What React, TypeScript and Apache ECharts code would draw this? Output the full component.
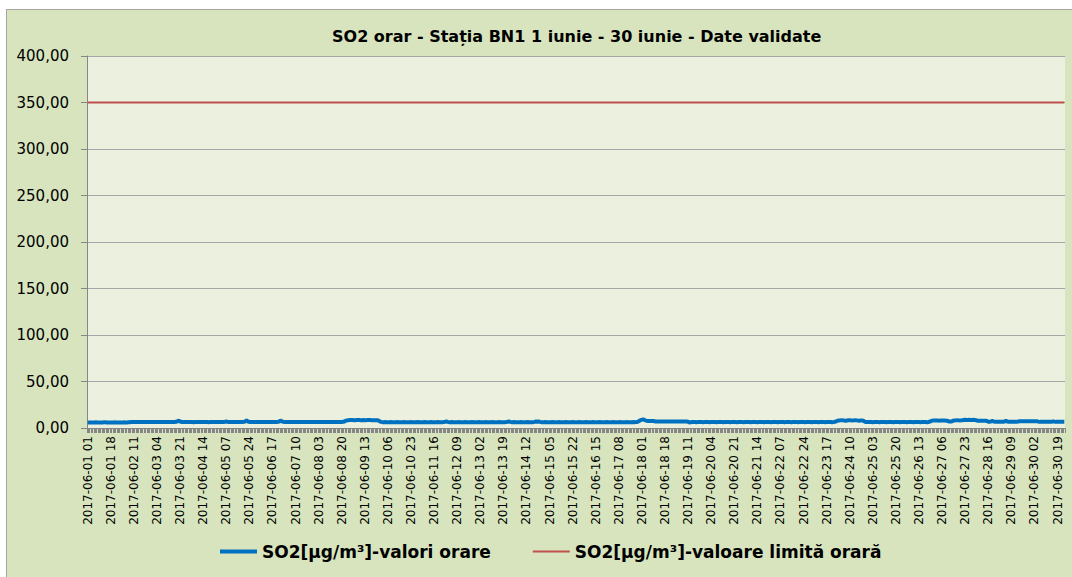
import React, { useEffect, useRef } from "react";
import * as echarts from "echarts";

const TITLE = "SO2 orar - Stația BN1 1 iunie - 30 iunie - Date validate";
const SERIES_NAMES = ["SO2[µg/m³]-valori orare", "SO2[µg/m³]-valoare limită orară"];
const LIMIT = 350;
const Y_TICKS = [0, 50, 100, 150, 200, 250, 300, 350, 400];
const DAYS = Array.from({ length: 30 }, (_, i) => String(i + 1).padStart(2, "0"));
const HOURS = Array.from({ length: 24 }, (_, i) => String(i + 1).padStart(2, "0"));

// hourly SO2 values (µg/m³), one array per day, hours 01..24
const d01 = [6.0, 6.0, 5.9, 5.9, 6.0, 6.0, 6.1, 6.0, 6.0, 5.9, 6.0, 6.0, 6.1, 6.1, 6.0, 6.0, 5.9, 6.0, 6.0, 6.0, 6.1, 6.0, 6.0, 6.0];
const d02 = [6.0, 6.0, 6.0, 6.1, 6.0, 6.0, 6.1, 6.2, 6.4, 6.4, 6.5, 6.4, 6.4, 6.4, 6.5, 6.4, 6.4, 6.4, 6.5, 6.5, 6.4, 6.4, 6.4, 6.4];
const d03 = [6.4, 6.4, 6.5, 6.4, 6.4, 6.4, 6.4, 6.5, 6.4, 6.4, 6.4, 6.4, 6.5, 6.5, 6.4, 6.4, 6.5, 6.6, 7.2, 8.0, 7.0, 6.5, 6.4, 6.4];
const d04 = [6.4, 6.4, 6.4, 6.5, 6.4, 6.4, 6.3, 6.4, 6.4, 6.5, 6.4, 6.4, 6.4, 6.4, 6.5, 6.4, 6.4, 6.3, 6.4, 6.4, 6.5, 6.4, 6.4, 6.4];
const d05 = [6.4, 6.4, 6.5, 6.4, 6.4, 6.6, 7.0, 6.6, 6.4, 6.4, 6.4, 6.5, 6.4, 6.4, 6.4, 6.4, 6.5, 6.4, 6.4, 6.6, 7.2, 8.2, 7.0, 6.5];
const d06 = [6.4, 6.4, 6.4, 6.4, 6.5, 6.4, 6.4, 6.4, 6.4, 6.5, 6.4, 6.4, 6.4, 6.4, 6.4, 6.5, 6.4, 6.4, 6.4, 6.4, 6.6, 7.0, 8.0, 7.2];
const d07 = [6.6, 6.4, 6.4, 6.4, 6.5, 6.4, 6.4, 6.4, 6.4, 6.4, 6.5, 6.4, 6.4, 6.4, 6.4, 6.4, 6.5, 6.4, 6.4, 6.4, 6.4, 6.5, 6.4, 6.4];
const d08 = [6.4, 6.4, 6.5, 6.4, 6.4, 6.4, 6.4, 6.4, 6.5, 6.4, 6.4, 6.4, 6.4, 6.4, 6.5, 6.4, 6.4, 6.4, 6.4, 6.5, 6.6, 7.0, 7.8, 8.2];
const d09 = [8.4, 8.5, 8.6, 8.5, 8.4, 8.4, 8.5, 8.6, 8.5, 8.4, 8.4, 8.5, 8.4, 8.4, 8.5, 8.6, 8.5, 8.4, 8.3, 8.4, 8.4, 8.3, 8.0, 7.2];
const d10 = [6.6, 6.3, 6.3, 6.4, 6.3, 6.3, 6.3, 6.4, 6.3, 6.3, 6.3, 6.3, 6.4, 6.3, 6.3, 6.3, 6.3, 6.4, 6.3, 6.3, 6.3, 6.3, 6.4, 6.3];
const d11 = [6.3, 6.3, 6.3, 6.4, 6.3, 6.3, 6.3, 6.3, 6.4, 6.3, 6.3, 6.3, 6.3, 6.4, 6.3, 6.3, 6.3, 6.3, 6.4, 6.3, 6.3, 6.3, 6.4, 6.6];
const d12 = [7.0, 6.6, 6.3, 6.3, 6.4, 6.3, 6.3, 6.3, 6.3, 6.4, 6.3, 6.3, 6.3, 6.3, 6.4, 6.3, 6.3, 6.3, 6.3, 6.4, 6.3, 6.3, 6.3, 6.3];
const d13 = [6.4, 6.3, 6.3, 6.3, 6.3, 6.4, 6.3, 6.3, 6.3, 6.3, 6.4, 6.3, 6.3, 6.3, 6.3, 6.4, 6.3, 6.3, 6.3, 6.3, 6.4, 6.6, 7.0, 6.6];
const d14 = [6.3, 6.3, 6.4, 6.3, 6.3, 6.3, 6.3, 6.4, 6.3, 6.3, 6.3, 6.3, 6.4, 6.3, 6.3, 6.3, 6.3, 6.6, 7.0, 6.6, 7.0, 6.6, 6.3, 6.3];
const d15 = [6.3, 6.4, 6.3, 6.3, 6.3, 6.3, 6.4, 6.3, 6.3, 6.3, 6.3, 6.4, 6.3, 6.3, 6.3, 6.3, 6.4, 6.3, 6.3, 6.3, 6.3, 6.4, 6.3, 6.3];
const d16 = [6.3, 6.3, 6.4, 6.3, 6.3, 6.3, 6.3, 6.4, 6.3, 6.3, 6.3, 6.3, 6.4, 6.3, 6.3, 6.3, 6.3, 6.4, 6.3, 6.3, 6.3, 6.3, 6.4, 6.3];
const d17 = [6.3, 6.3, 6.3, 6.4, 6.3, 6.3, 6.3, 6.3, 6.4, 6.3, 6.3, 6.3, 6.3, 6.4, 6.3, 6.3, 6.3, 6.3, 6.4, 6.3, 6.5, 6.8, 7.5, 8.5];
const d18 = [8.8, 9.2, 8.6, 8.0, 7.6, 7.6, 7.5, 7.6, 7.6, 7.5, 7.0, 7.0, 7.1, 7.0, 7.0, 7.0, 7.1, 7.0, 7.0, 7.0, 7.1, 7.0, 7.0, 7.0];
const d19 = [7.0, 7.0, 7.1, 7.0, 7.0, 7.0, 7.1, 7.0, 7.0, 7.0, 6.8, 6.0, 6.3, 6.4, 6.4, 6.4, 6.3, 6.4, 6.4, 6.4, 6.4, 6.3, 6.4, 6.4];
const d20 = [6.4, 6.4, 6.3, 6.4, 6.4, 6.4, 6.4, 6.3, 6.4, 6.4, 6.4, 6.4, 6.3, 6.4, 6.4, 6.4, 6.4, 6.3, 6.4, 6.4, 6.4, 6.4, 6.3, 6.4];
const d21 = [6.4, 6.4, 6.4, 6.3, 6.4, 6.4, 6.4, 6.4, 6.3, 6.4, 6.4, 6.4, 6.4, 6.3, 6.4, 6.4, 6.4, 6.4, 6.3, 6.4, 6.4, 6.4, 6.4, 6.3];
const d22 = [6.4, 6.4, 6.4, 6.4, 6.3, 6.4, 6.4, 6.4, 6.4, 6.3, 6.4, 6.4, 6.4, 6.4, 6.3, 6.4, 6.4, 6.4, 6.4, 6.3, 6.4, 6.4, 6.4, 6.4];
const d23 = [6.3, 6.4, 6.4, 6.4, 6.4, 6.3, 6.4, 6.4, 6.4, 6.4, 6.3, 6.4, 6.4, 6.4, 6.4, 6.3, 6.4, 6.4, 6.4, 6.4, 6.3, 6.4, 6.6, 7.2];
const d24 = [7.8, 8.0, 8.2, 8.4, 8.2, 8.0, 7.8, 8.0, 8.3, 8.4, 8.2, 8.0, 8.2, 8.4, 8.2, 8.0, 7.9, 8.1, 8.0, 7.8, 6.8, 6.4, 6.4, 6.4];
const d25 = [6.4, 6.4, 6.3, 6.4, 6.4, 6.4, 6.4, 6.3, 6.4, 6.4, 6.4, 6.4, 6.3, 6.4, 6.4, 6.4, 6.4, 6.3, 6.4, 6.4, 6.4, 6.4, 6.3, 6.4];
const d26 = [6.4, 6.4, 6.4, 6.3, 6.4, 6.4, 6.4, 6.4, 6.3, 6.4, 6.4, 6.4, 6.4, 6.3, 6.4, 6.4, 6.4, 6.4, 6.3, 6.4, 6.8, 7.6, 8.0, 8.0];
const d27 = [8.0, 8.1, 8.0, 7.9, 8.0, 8.1, 8.0, 8.0, 7.9, 7.8, 7.0, 6.9, 7.0, 7.8, 8.0, 8.2, 8.4, 8.2, 8.0, 8.2, 8.4, 8.6, 8.8, 8.6];
const d28 = [8.6, 8.8, 8.7, 8.6, 8.8, 8.6, 8.4, 7.8, 7.8, 7.9, 7.8, 7.8, 7.8, 7.9, 7.6, 6.8, 6.8, 7.0, 7.6, 7.0, 6.8, 6.8, 6.8, 6.8];
const d29 = [6.8, 6.7, 6.7, 7.0, 7.6, 7.0, 6.7, 6.7, 6.7, 6.8, 6.7, 6.7, 6.7, 6.9, 7.2, 7.2, 7.3, 7.2, 7.2, 7.2, 7.3, 7.2, 7.2, 7.2];
const d30 = [7.2, 7.2, 7.3, 7.2, 6.8, 6.6, 6.6, 6.6, 6.7, 6.6, 6.6, 6.6, 6.6, 6.7, 6.8, 7.2, 6.8, 6.6, 6.6, 6.6, 6.6, 6.7, 6.6, 6.6];

const DAILY = [d01, d02, d03, d04, d05, d06, d07, d08, d09, d10, d11, d12, d13, d14, d15, d16, d17, d18, d19, d20, d21, d22, d23, d24, d25, d26, d27, d28, d29, d30];

export default function App() {
  const ref = useRef<HTMLDivElement>(null);

  useEffect(() => {
    if (!ref.current) return;
    const chart = echarts.init(ref.current, undefined, { renderer: "svg" });

    const categories: string[] = [];
    DAYS.forEach((d) => HOURS.forEach((h) => categories.push(`2017-06-${d} ${h}`)));
    const so2: number[] = DAILY.flat();
    const limit = categories.map(() => LIMIT);

    chart.setOption({
      animation: false,
      backgroundColor: "transparent",
      title: {
        text: TITLE,
        left: 327,
        top: 23,
        textStyle: {
          fontFamily: "DejaVu Sans, Verdana, sans-serif",
          fontSize: 16,
          fontWeight: "bold",
          color: "#000000",
        },
      },
      legend: {
        left: 215,
        top: 538,
        itemWidth: 37,
        itemHeight: 14,
        itemGap: 42,
        data: [
          { name: SERIES_NAMES[0], icon: "path://M0,6 L37,6 L37,10 L0,10 Z" },
          { name: SERIES_NAMES[1], icon: "path://M0,7 L37,7 L37,9 L0,9 Z" },
        ],
        textStyle: {
          fontFamily: "DejaVu Sans, Verdana, sans-serif",
          fontSize: 17,
          fontWeight: "bold",
          color: "#000000",
        },
      },
      grid: {
        left: 87,
        right: 7,
        top: 56,
        bottom: 149,
        show: true,
        backgroundColor: "#ebf1de",
        borderWidth: 0,
        containLabel: false,
        outerBoundsMode: "none",
      },
      xAxis: {
        type: "category",
        data: categories,
        boundaryGap: true,
        axisLine: { show: true, lineStyle: { color: "#868686", width: 1 } },
        axisTick: { show: true, interval: 0, length: 5, lineStyle: { color: "#868686", width: 1 } },
        axisLabel: {
          interval: 16,
          rotate: 90,
          margin: 8,
          fontFamily: "DejaVu Sans, Verdana, sans-serif",
          fontSize: 12,
          color: "#000000",
        },
        splitLine: { show: false },
      },
      yAxis: {
        type: "value",
        min: Y_TICKS[0],
        max: Y_TICKS[Y_TICKS.length - 1],
        interval: 50,
        axisLine: { show: true, lineStyle: { color: "#868686", width: 1 } },
        axisTick: { show: true, length: 6, lineStyle: { color: "#868686" } },
        axisLabel: {
          margin: 18,
          fontFamily: "DejaVu Sans, Verdana, sans-serif",
          fontSize: 15,
          color: "#000000",
          formatter: (v: number) => v.toFixed(2).replace(".", ","),
        },
        splitLine: { show: true, lineStyle: { color: "#a6a6a6", width: 1 } },
      },
      series: [
        {
          name: SERIES_NAMES[0],
          type: "line",
          data: so2,
          symbol: "none",
          lineStyle: { color: "#0070c0", width: 4 },
          itemStyle: { color: "#0070c0" },
          z: 3,
        },
        {
          name: SERIES_NAMES[1],
          type: "line",
          data: limit,
          symbol: "none",
          lineStyle: { color: "#c0504d", width: 2 },
          itemStyle: { color: "#c0504d" },
          z: 2,
        },
      ],
    });

    return () => chart.dispose();
  }, []);

  return (
    <div style={{ position: "fixed", left: 0, top: 0, width: 1072, height: 577, background: "#ffffff", overflow: "hidden" }}>
      <div
        style={{
          position: "absolute",
          left: 6,
          top: 9,
          width: 1075,
          height: 575,
          boxSizing: "border-box",
          border: "1px solid #a6a6a6",
          background: "#d7e4bd",
        }}
      />
      <div ref={ref} style={{ position: "absolute", left: 0, top: 0, width: 1072, height: 577 }} />
    </div>
  );
}
